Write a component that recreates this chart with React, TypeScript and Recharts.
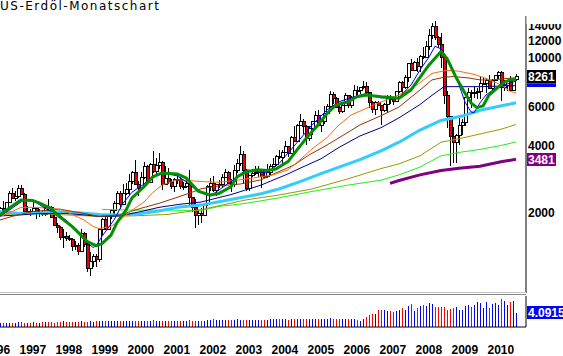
import React from 'react';
import { ComposedChart, Bar, Line, XAxis, YAxis, ReferenceLine } from 'recharts';

// months counted from Jan 1996 (index 0); first visible candle = Jun 1996
const FIRST_MONTH = 5;
const yearLabels = ['1996','1997','1998','1999','2000','2001','2002','2003','2004','2005','2006','2007','2008','2009','2010'];
const priceTicks = [2000, 4000, 6000, 10000, 12000, 14000];

const opens = [
  1976, 2092, 2042, 2225, 2438, 2335, 2375,
  2592, 2415, 2030, 2041, 2021, 2088, 1980, 2014, 1961, 2118, 2108, 1915,
  1764, 1721, 1544, 1561, 1539, 1520, 1418, 1421, 1334, 1614, 1442, 1122,
  1205, 1275, 1227, 1676, 1866, 1684, 1929, 2053, 2210, 2451, 2175, 2459,
  2560, 2764, 3043, 2690, 2574, 2901, 3250, 2743, 3312, 3084, 3270, 3382,
  2680, 2866, 2739, 2629, 2846, 2837, 2625, 2635, 2720, 2343, 2118, 1944,
  1984, 1948, 2174, 2631, 2729, 2531, 2686, 2702, 2898, 3045, 2722, 2689,
  3120, 3351, 3660, 3104, 2580, 2956, 3019, 3054, 3157, 2920, 2911, 3041,
  3252, 3305, 3616, 3576, 3738, 3988, 3705, 4380, 4212, 4964, 5176, 4913,
  4345, 4820, 5175, 5540, 4972, 5197, 5650, 6057, 6894, 6624, 5976, 5732,
  6104, 6792, 6141, 6663, 7188, 7129, 7393, 7440, 7026, 6291, 5873, 6313,
  6105, 5814, 6179, 6587, 6571, 6401, 7068, 7821, 7404, 8166, 9453, 8871,
  9598, 9175, 10184, 10158, 11346, 12735, 14000, 12408, 11546, 10064, 6781, 5443,
  4460, 4168, 4476, 4966, 5112, 6631, 6989, 6945, 6996, 7061, 7700, 7728,
  7936, 7289, 7966, 8376, 8615, 7397, 7563, 7895, 7192, 7997,
];
const highs = [
  2120, 2260, 2240, 2490, 2590, 2490, 2660,
  2660, 2450, 2140, 2070, 2220, 2100, 2070, 2060, 2150, 2290, 2130, 1940,
  1800, 1730, 1690, 1630, 1590, 1530, 1480, 1450, 1680, 1640, 1480, 1320,
  1300, 1300, 1680, 1890, 1960, 1950, 2080, 2250, 2510, 2500, 2700, 2720,
  3000, 3090, 3440, 2780, 3060, 3400, 3280, 3350, 3780, 3520, 3700, 3420,
  3250, 3180, 2830, 2860, 2990, 2900, 2750, 2880, 3120, 2360, 2290, 2040,
  2100, 2200, 2650, 2850, 2940, 2700, 2820, 3000, 3140, 3070, 2840, 3270,
  3500, 3999, 3810, 3130, 2960, 3160, 3250, 3260, 3160, 3160, 3300, 3320,
  3530, 3650, 3830, 3850, 4230, 4000, 4450, 4940, 5050, 5570, 5300, 4960,
  4930, 5200, 5760, 5830, 5200, 6090, 6210, 7080, 7000, 6690, 6120, 6190,
  6920, 6830, 6700, 7540, 7490, 7400, 7840, 7770, 7040, 6420, 6380, 6400,
  6150, 6230, 6810, 6790, 6670, 7080, 7880, 7880, 8390, 9480, 9930, 9710,
  10010, 10310, 11180, 11990, 13510, 14370, 14730, 12600, 13000, 10200, 7120, 5450,
  4860, 4520, 5470, 5320, 6660, 7340, 7160, 7500, 7340, 8200, 8200, 8140,
  8390, 8060, 8420, 8710, 8700, 7940, 7910, 8290, 8000, 8440,
];
const lows = [
  1930, 1990, 2020, 2200, 2320, 2250, 2330,
  2400, 2000, 1960, 1920, 2000, 1860, 1900, 1920, 1920, 2060, 1910, 1730,
  1610, 1500, 1380, 1490, 1480, 1340, 1360, 1290, 1320, 1400, 1080, 1035,
  1130, 1130, 1200, 1590, 1680, 1660, 1870, 1960, 2180, 2080, 2160, 2400,
  2400, 2700, 2660, 2380, 2530, 2830, 2700, 2730, 3030, 2960, 3150, 2520,
  2660, 2680, 2560, 2480, 2690, 2560, 2520, 2590, 2170, 2020, 1700, 1750,
  1790, 1930, 2150, 2490, 2480, 2380, 2580, 2590, 2850, 2680, 2470, 2620,
  3010, 3260, 2690, 2500, 2510, 2900, 2950, 2900, 2590, 2860, 2870, 2960,
  3200, 3250, 3510, 3300, 3700, 3580, 3700, 4180, 4200, 4950, 4550, 4030,
  4210, 4490, 5130, 4930, 4620, 5010, 5580, 6020, 6200, 5950, 5600, 5630,
  6100, 5930, 5950, 6600, 6800, 6850, 7250, 6960, 5950, 5660, 5500, 6050,
  4990, 5700, 5650, 6200, 6150, 6400, 6980, 6900, 7240, 7750, 8800, 8700,
  8610, 8610, 9860, 9960, 10900, 12200, 12100, 11130, 9050, 6200, 4820, 3240,
  3360, 3350, 4020, 4500, 4930, 6450, 5950, 6600, 6500, 6500, 7520, 6950,
  7240, 6950, 7850, 8000, 6420, 7070, 7100, 7090, 7070, 7900,
];
const closes = [
  2092, 2042, 2225, 2438, 2335, 2375, 2592,
  2415, 2030, 2041, 2021, 2088, 1980, 2014, 1961, 2118, 2108, 1915, 1764,
  1721, 1544, 1561, 1539, 1520, 1418, 1421, 1334, 1614, 1442, 1122, 1205,
  1275, 1227, 1676, 1866, 1684, 1929, 2053, 2210, 2451, 2175, 2459, 2560,
  2764, 3043, 2690, 2574, 2901, 3250, 2743, 3312, 3084, 3270, 3382, 2680,
  2866, 2739, 2629, 2846, 2837, 2625, 2635, 2720, 2343, 2118, 1944, 1984,
  1948, 2174, 2631, 2729, 2531, 2686, 2702, 2898, 3045, 2722, 2689, 3120,
  3351, 3660, 3104, 2580, 2956, 3019, 3054, 3157, 2920, 2911, 3041, 3252,
  3305, 3616, 3576, 3738, 3988, 3705, 4380, 4212, 4964, 5176, 4913, 4345,
  4820, 5175, 5540, 4972, 5197, 5650, 6057, 6894, 6624, 5976, 5732, 6104,
  6792, 6141, 6663, 7188, 7129, 7393, 7440, 7026, 6291, 5873, 6313, 6105,
  5814, 6179, 6587, 6571, 6401, 7068, 7821, 7404, 8166, 9453, 8871, 9598,
  9175, 10184, 10158, 11346, 12735, 14000, 12408, 11546, 10064, 6781, 5443, 4460,
  4168, 4476, 4966, 5112, 6631, 6989, 6945, 6996, 7061, 7700, 7728, 7936,
  7289, 7966, 8376, 8615, 7397, 7563, 7895, 7192, 7997, 8261,
];
const volumes = [
  1.10, 1.05, 1.15, 1.25, 1.20, 1.10, 1.30,
  1.35, 1.20, 1.15, 1.25, 1.30, 1.20, 1.25, 1.30, 1.35, 1.40, 1.30, 1.25,
  1.35, 1.45, 1.60, 1.40, 1.35, 1.50, 1.45, 1.40, 1.70, 1.55, 1.50, 1.65,
  1.55, 1.60, 1.80, 1.70, 1.65, 1.75, 1.60, 1.70, 1.85, 1.75, 1.80, 1.70,
  1.75, 1.85, 1.80, 1.65, 1.70, 1.75, 1.65, 1.80, 1.90, 1.75, 1.70, 1.80,
  1.85, 1.70, 1.75, 1.80, 1.65, 1.70, 1.75, 1.80, 1.95, 1.85, 1.60, 1.75,
  1.80, 1.85, 2.00, 2.10, 2.15, 1.95, 1.90, 2.00, 2.05, 1.95, 2.10, 2.05,
  2.20, 2.10, 1.90, 2.00, 1.95, 2.05, 2.00, 2.10, 1.95, 2.05, 2.10, 2.15,
  2.20, 2.25, 2.15, 2.30, 2.35, 2.05, 2.20, 2.25, 2.30, 2.40, 2.25, 2.30,
  2.20, 2.35, 2.40, 2.25, 2.15, 2.30, 2.20, 2.45, 2.30, 2.20, 2.25, 2.15,
  2.35, 2.30, 2.15, 2.25, 2.05, 1.70, 2.30, 2.90, 3.55, 3.75, 3.70, 4.85,
  4.85, 4.80, 4.60, 4.65, 4.40, 4.70, 4.80, 5.40, 4.75, 6.00, 6.55, 4.60,
  5.40, 5.90, 6.35, 5.90, 6.85, 6.60, 5.85, 5.80, 5.85, 5.60, 4.90, 5.15,
  5.40, 5.65, 5.00, 4.90, 5.90, 6.30, 5.60, 6.30, 7.10, 6.90, 5.40, 7.10,
  5.50, 6.70, 7.00, 6.30, 8.00, 7.35, 6.40, 7.05, 7.35, 4.0915,
];

// moving-average lines: [month, value]
const greenMA = [[5,1950],[8,2090],[12,2280],[16,2265],[18,2210],[22,2090],[24,1950],[29,1730],[32,1580],[34,1480],[37,1415],[39,1445],[42,1580],[44,1800],[47,2050],[49,2330],[53,2615],[56,2900],[59,3020],[64,2990],[67,2870],[71,2500],[75,2400],[78,2440],[82,2615],[84,2900],[87,3055],[91,3120],[94,3100],[97,3145],[101,3400],[104,3840],[107,4320],[111,4980],[114,5600],[117,6130],[121,6340],[124,6680],[127,6800],[132,6680],[138,6580],[142,7170],[145,8180],[148,9300],[152,10700],[154,9960],[157,8180],[160,6930],[162,6270],[164,5960],[166,6070],[168,6800],[171,7370],[173,7760],[175,7960],[177,8020]];
const blueMA = [[5,1920],[9,2090],[13,2280],[16,2265],[21,2050],[24,1990],[28,1800],[32,1560],[34,1460],[36,1390],[37,1410],[39,1560],[43,1850],[46,2200],[49,2470],[53,2690],[56,2930],[59,3030],[64,2930],[67,2760],[71,2490],[75,2370],[82,2760],[87,3120],[94,3020],[98,3330],[104,4140],[109,4980],[114,5820],[118,6340],[123,6680],[127,6900],[132,6600],[138,6620],[142,7550],[145,8830],[148,10100],[150,11300],[152,11000],[155,9500],[158,7550],[160,6320],[162,5700],[163,5650],[165,6270],[167,6800],[170,7280],[173,7550],[177,7870]];
const orangeMA = [[5,1920],[8,1990],[12,2110],[16,2110],[22,2090],[25,2070],[28,1990],[33,1850],[36,1730],[38,1690],[42,1730],[45,1850],[49,2050],[53,2230],[56,2470],[59,2660],[64,2810],[68,2790],[72,2760],[78,2740],[85,2810],[92,2900],[96,2960],[101,3120],[105,3460],[109,3880],[114,4360],[118,4980],[122,5520],[127,5910],[131,6250],[138,6800],[144,7550],[149,8520],[154,8800],[158,8710],[163,8440],[167,8080],[172,7550],[175,7070],[177,6950]];
const brownMA = [[5,1850],[9,1920],[16,2020],[25,2070],[33,1980],[38,1920],[45,1950],[52,2090],[58,2200],[64,2340],[69,2470],[72,2560],[78,2640],[85,2690],[92,2810],[97,3020],[103,3280],[108,3640],[114,4040],[119,4440],[125,4980],[132,5480],[138,6000],[145,7170],[149,7960],[153,8180],[156,8240],[161,8130],[165,7960],[169,7960],[174,8080],[177,8140]];
const navyMA = [[5,1930],[12,1950],[18,1980],[27,1980],[33,1950],[38,1920],[45,1930],[52,2020],[58,2110],[65,2180],[72,2230],[82,2410],[92,2660],[101,2990],[105,3170],[112,3500],[118,3940],[125,4440],[132,4840],[138,5360],[145,6160],[149,6780],[153,7420],[160,7420],[165,7420],[170,7450],[177,7500]];
const cyanMA = [[5,2015],[12,1980],[18,1990],[25,2015],[32,1990],[38,1960],[45,1950],[52,1980],[58,2030],[65,2120],[72,2160],[78,2235],[85,2330],[92,2430],[98,2555],[105,2760],[112,3000],[118,3210],[125,3470],[132,3800],[138,4160],[145,4720],[152,5220],[154,5280],[159,5460],[165,5800],[171,6030],[177,6270]];
const oliveMA = [[5,1960],[16,1980],[27,1950],[38,1920],[49,1930],[61,1960],[72,2060],[87,2280],[98,2400],[109,2555],[121,2840],[132,3160],[138,3320],[145,3610],[152,4160],[158,4310],[165,4530],[172,4760],[177,5000]];
const limeMA = [[39,2065],[49,2050],[61,2050],[72,2040],[78,2130],[87,2200],[98,2330],[109,2490],[121,2660],[132,2800],[138,2960],[145,3210],[152,3610],[158,3740],[165,3860],[172,4020],[177,4170]];
const purpleMA = [[135,2710],[138,2790],[145,2960],[152,3100],[158,3170],[165,3240],[172,3390],[177,3481]];

const maLines = [
  { key: 'purple', pts: purpleMA, color: '#800080', width: 3 },
  { key: 'lime', pts: limeMA, color: '#22ee22', width: 1 },
  { key: 'olive', pts: oliveMA, color: '#999900', width: 1 },
  { key: 'cyan', pts: cyanMA, color: '#33ccff', width: 3 },
  { key: 'navy', pts: navyMA, color: '#000080', width: 1 },
  { key: 'brown', pts: brownMA, color: '#993300', width: 1 },
  { key: 'orange', pts: orangeMA, color: '#ff6a10', width: 1 },
  { key: 'blue', pts: blueMA, color: '#0000ff', width: 1 },
  { key: 'green', pts: greenMA, color: '#009000', width: 3 },
];

const rows: any[] = closes.map((close, i) => ({
  m: FIRST_MONTH + i, open: opens[i], high: highs[i], low: lows[i], close, vol: volumes[i],
}));
maLines.forEach((s) => s.pts.forEach(([m, v]) => { const r = rows[m - FIRST_MONTH]; if (r) r[s.key] = v; }));

const last = (a: number[][]) => a[a.length - 1][1];
const yearTicks = yearLabels.map((_, i) => i * 12);

const CHART_W = 578;
const AXIS_W = 37;
const X_DOMAIN = [0, (CHART_W - AXIS_W) / 3];
const BOLD = '"Liberation Sans", Arial, sans-serif';

function Candle(props: any) {
  const { x, y, width, height, payload } = props;
  if (x == null || !payload || !isFinite(y) || !isFinite(height)) return null;
  const top = Math.min(y, y + height);
  const bot = Math.max(y, y + height);
  const { open, close, high, low } = payload;
  const lh = Math.log(high), ll = Math.log(low);
  const toY = (v: number) => top + ((lh - Math.log(v)) / (lh - ll)) * (bot - top);
  const c = Math.round(x + width / 2);
  const yo = toY(open), yc = toY(close);
  const bt = Math.round(Math.min(yo, yc));
  const bb = Math.round(Math.max(yo, yc));
  const up = close >= open;
  return (
    <g shapeRendering="crispEdges">
      <line x1={c + 0.5} x2={c + 0.5} y1={Math.round(top)} y2={Math.round(bot)} stroke="#000" strokeWidth={1} />
      <rect x={c - 0.5} y={bt + 0.5} width={3} height={Math.max(bb - bt, 1)} fill={up ? '#ffffff' : '#ee0000'} stroke="#000" strokeWidth={1} />
    </g>
  );
}

function VolBar(props: any) {
  const { x, y, width, height, payload } = props;
  if (x == null || !payload) return null;
  const c = Math.round(x + width / 2);
  const t = Math.round(y), b = Math.round(y + height);
  return <rect x={c} y={t} width={1} height={Math.max(b - t, 0)} fill={payload.close >= payload.open ? '#0000ff' : '#ff0000'} shapeRendering="crispEdges" />;
}

function PriceTick(props: any) {
  const { x, y, payload } = props;
  return (
    <text x={x + 2} y={y} dy={4.3} fontFamily={BOLD} fontWeight={700} fontSize={12} fill="#000">{payload.value}</text>
  );
}

function YearTick(props: any) {
  const { x, y, payload } = props;
  return (
    <text x={x - 1.5} y={y + 27} textAnchor="start" fontFamily={BOLD} fontWeight={700} fontSize={12} fill="#000">
      {yearLabels[Math.round(payload.value / 12)]}
    </text>
  );
}

function ValueTag(props: any) {
  const vb = props.viewBox || {};
  const ax = (vb.x || 0) + (vb.width || 0);
  const cy = vb.y || 0;
  return (
    <g>
      <rect x={ax + 1} y={cy - 6.5} width={props.w} height={13} fill={props.bg} shapeRendering="crispEdges" />
      {props.text ? (
        <text x={ax + 2} y={cy} dy={4.3} fontFamily={BOLD} fontWeight={700} fontSize={12} fill="#fff">{props.text}</text>
      ) : null}
    </g>
  );
}

export default function App() {
  return (
    <div style={{ position: 'fixed', left: 0, top: 0, width: 563, height: 356, overflow: 'hidden', background: '#fff' }}>
      <div style={{ position: 'absolute', left: -15, top: 0 }}>
        <ComposedChart width={CHART_W} height={295} data={rows} margin={{ top: 16, right: 0, left: 0, bottom: 2 }}>
          <XAxis type="number" dataKey="m" domain={X_DOMAIN} allowDataOverflow hide />
          <YAxis
            orientation="right" scale="log" type="number" domain={[864.5, 15490]} allowDataOverflow
            ticks={priceTicks} interval={0} width={AXIS_W} tickLine={false} tickSize={0} tickMargin={0}
            axisLine={{ stroke: '#000' }} tick={(p: any) => <PriceTick {...p} />}
          />
          {maLines.map((s) => (
            <Line key={s.key} type="linear" dataKey={s.key} stroke={s.color} strokeWidth={s.width} dot={false}
              activeDot={false} connectNulls isAnimationActive={false} strokeLinejoin="round" />
          ))}
          <Bar dataKey={(d: any) => [d.low, d.high]} barSize={3} isAnimationActive={false}
            shape={(p: any) => <Candle {...p} />} />
          <ReferenceLine y={last(purpleMA)} stroke="none" label={<ValueTag bg="#800080" w={29} text={String(last(purpleMA))} />} />
          <ReferenceLine y={last(blueMA)} stroke="none" label={<ValueTag bg="#0000ff" w={29} text="" />} />
          <ReferenceLine y={last(brownMA)} stroke="none" label={<ValueTag bg="#a0300a" w={29} text="" />} />
          <ReferenceLine y={closes[closes.length - 1]} stroke="none" label={<ValueTag bg="#000" w={29} text={String(closes[closes.length - 1])} />} />
        </ComposedChart>
      </div>
      <div style={{ position: 'absolute', left: -15, top: 295 }}>
        <ComposedChart width={CHART_W} height={61} data={rows} margin={{ top: 1, right: 0, left: 0, bottom: 0 }}>
          <XAxis type="number" dataKey="m" domain={X_DOMAIN} allowDataOverflow ticks={yearTicks} interval={0}
            height={29} tickLine={false} tickSize={0} tickMargin={0} axisLine={{ stroke: '#000' }}
            tick={(p: any) => <YearTick {...p} />} />
          <YAxis orientation="right" type="number" domain={[0, 8.87]} allowDataOverflow width={AXIS_W}
            tick={false} tickLine={false} axisLine={{ stroke: '#000' }} />
          <Bar dataKey="vol" barSize={1} isAnimationActive={false} shape={(p: any) => <VolBar {...p} />} />
          <ReferenceLine y={volumes[volumes.length - 1]} stroke="none"
            label={<ValueTag bg="#0000ff" w={40} text={String(volumes[volumes.length - 1])} />} />
        </ComposedChart>
      </div>
      <svg width={563} height={356} style={{ position: 'absolute', left: 0, top: 0, pointerEvents: 'none' }}>
        <rect x={526.5} y={0} width={40} height={24} fill="#fff" />
        <rect x={0} y={292} width={526} height={1} fill="#c4c4c4" />
        <rect x={0} y={294} width={526} height={1} fill="#8a8a8a" />
        <text x={0} y={10} fontFamily='"DejaVu Sans", Verdana, sans-serif' fontSize={12} letterSpacing={1.5} fill="#000">US-Erdöl-Monatschart</text>
      </svg>
    </div>
  );
}
